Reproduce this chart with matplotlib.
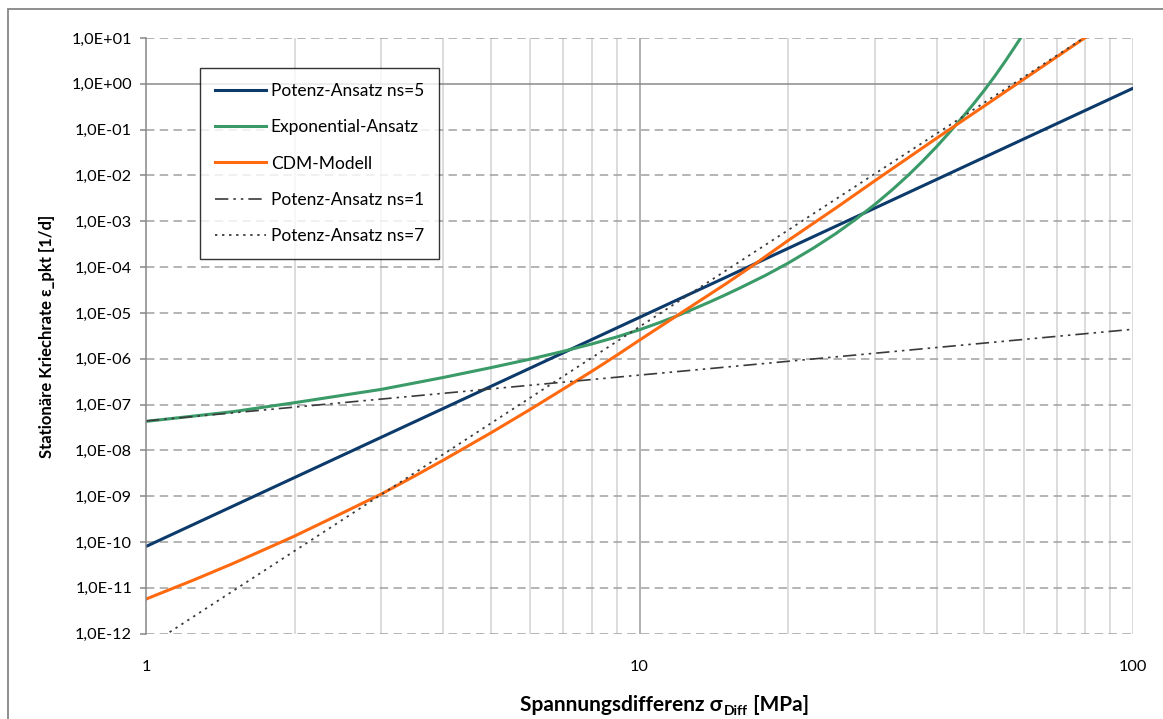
import numpy as np
import matplotlib.pyplot as plt
from matplotlib.ticker import FixedLocator, FuncFormatter, NullFormatter
from matplotlib.patches import Rectangle

plt.rcParams['font.family'] = ['Lato', 'DejaVu Sans']

# Spannungsdifferenz [MPa] und Kriechraten [1/d]
sig_pot = [1, 100]
eps_ns5 = [8.0e-11, 8.0e-1]
eps_ns1 = [4.4e-8, 4.4e-6]
eps_ns7 = [5.0e-13, 5.0e1]

sig_exp = [1, 1.5, 2, 3, 4, 5, 6, 7, 8, 9, 10, 11, 12, 13, 14, 15, 16, 18, 20, 22.5, 25,
           27.5, 30, 32.5, 35, 37.5, 40, 42.5, 45, 47.5, 50, 52.5, 55, 57.5, 60]
eps_exp = [4.3e-8, 7.0e-8, 1.1e-7, 2.15e-7, 3.9e-7, 6.4e-7, 9.8e-7, 1.45e-6, 2.1e-6,
           3.0e-6, 4.3e-6, 6.2e-6, 8.9e-6, 1.28e-5, 1.81e-5, 2.54e-5, 3.53e-5, 6.6e-5,
           1.22e-4, 2.59e-4, 5.4e-4, 1.13e-3, 2.34e-3, 4.85e-3, 1.0e-2, 2.07e-2,
           4.26e-2, 8.8e-2, 1.8e-1, 3.63e-1, 7.3e-1, 1.48, 3.03, 6.2, 12.5]

sig_cdm = [1, 1.25, 1.5, 1.75, 2, 2.5, 3, 3.5, 4, 5, 6, 7, 8, 9, 10, 12, 15, 17, 20, 25,
           30, 40, 50, 60, 70, 80, 90]
eps_cdm = [5.7e-12, 1.49e-11, 3.4e-11, 7.1e-11, 1.35e-10, 4.3e-10, 1.12e-9, 2.75e-9,
           6.1e-9, 2.42e-8, 7.8e-8, 2.17e-7, 5.3e-7, 1.2e-6, 2.55e-6, 9.2e-6, 4.4e-5,
           1.1e-4, 3.8e-4, 1.95e-3, 7.7e-3, 6.5e-2, 3.3e-1, 1.25, 3.85, 10.2, 24.0]

W, H = 1163, 719
fig = plt.figure(figsize=(W / 100, H / 100), dpi=100)
fig.patches.append(Rectangle((8 / W, -0.1), 2, 1.1 - 9 / H, transform=fig.transFigure,
                             fill=False, edgecolor='#868686', lw=1.3))
ax = fig.add_axes([146 / W, 1 - 633.7 / H, 987 / W, 595.7 / H])

ax.set_xscale('log')
ax.set_yscale('log')
ax.set_xlim(1, 100)
ax.set_ylim(1e-12, 1e1)

# Gitter
for x in [2, 3, 4, 5, 6, 7, 8, 9, 20, 30, 40, 50, 60, 70, 80, 90, 100]:
    ax.axvline(x, color='#d2d2d2', lw=1.1, zorder=0)
ax.axvline(10, color='#b0b0b0', lw=1.4, zorder=0)
for e in range(-12, 2):
    if e == 0:
        ax.axhline(1, color='#8a8a8a', lw=1.1, zorder=0.5)
    else:
        ax.axhline(10.0 ** e, color='#a0a0a0', lw=1.1, dashes=(5.5, 3.5), zorder=0.5)

ax.plot(sig_pot, eps_ns5, color='#0c3a6b', lw=2.2, label='Potenz-Ansatz ns=5')
ax.plot(sig_exp, eps_exp, color='#3a9a68', lw=2.2, label='Exponential-Ansatz')
ax.plot(sig_cdm, eps_cdm, color='#ff6a10', lw=2.2, label='CDM-Modell')
ax.plot(sig_pot, eps_ns1, color='#3a3a3a', lw=1.2, dashes=(8, 3, 1.5, 3, 1.5, 3),
        label='Potenz-Ansatz ns=1')
ax.plot(sig_pot, eps_ns7, color='#3a3a3a', lw=1.3, dashes=(1.3, 2.6),
        label='Potenz-Ansatz ns=7')

for s in ['top', 'right', 'bottom']:
    ax.spines[s].set_visible(False)
ax.spines['left'].set_color('#868686')
ax.spines['left'].set_linewidth(1.1)

ax.xaxis.set_major_locator(FixedLocator([1, 10, 100]))
ax.xaxis.set_major_formatter(FuncFormatter(lambda v, p: f'{v:g}'))
ax.xaxis.set_minor_formatter(NullFormatter())
ax.tick_params(axis='x', which='both', length=0, pad=19, labelsize=11.7)
ax.yaxis.set_major_locator(FixedLocator([10.0 ** e for e in range(-12, 2)]))
ax.yaxis.set_major_formatter(FuncFormatter(lambda v, p: f'1,0E{int(round(np.log10(v))):+03d}'))
ax.yaxis.set_minor_locator(FixedLocator([]))
ax.tick_params(axis='y', which='major', length=4, width=1.1, color='#868686',
               direction='out', pad=6, labelsize=11.7)

fig.text(47 / W, 1 - 336 / H, 'Stationäre Kriechrate ε_pkt [1/d]', rotation=90,
         ha='center', va='center', fontsize=12, fontweight='bold')

# x-Achsentitel mit tiefgestelltem "Diff"
yb = 1 - 711 / H
t1 = fig.text(0, yb, 'Spannungsdifferenz σ', fontsize=15, fontweight='bold', va='baseline')
t2 = fig.text(0, yb - 4 / H, 'Diff', fontsize=10, fontweight='bold', va='baseline')
t3 = fig.text(0, yb, ' [MPa]', fontsize=15, fontweight='bold', va='baseline')
r = fig.canvas.get_renderer()
w1, w2, w3 = [t.get_window_extent(r).width for t in (t1, t2, t3)]
x0 = 520
t1.set_x(x0 / W)
t2.set_x((x0 + w1 + 1) / W)
t3.set_x((x0 + w1 + w2 + 1) / W)

leg = ax.legend(loc='upper left', bbox_to_anchor=((200 - 146) / 987, (633.7 - 68) / 595.7),
                fontsize=12.5, frameon=True, fancybox=False, borderaxespad=0,
                handlelength=2.9, handletextpad=0.3, labelspacing=1.16, borderpad=0.88)
leg.get_frame().set_edgecolor('black')
leg.get_frame().set_linewidth(1.0)

fig.savefig('out.png', dpi=100)
